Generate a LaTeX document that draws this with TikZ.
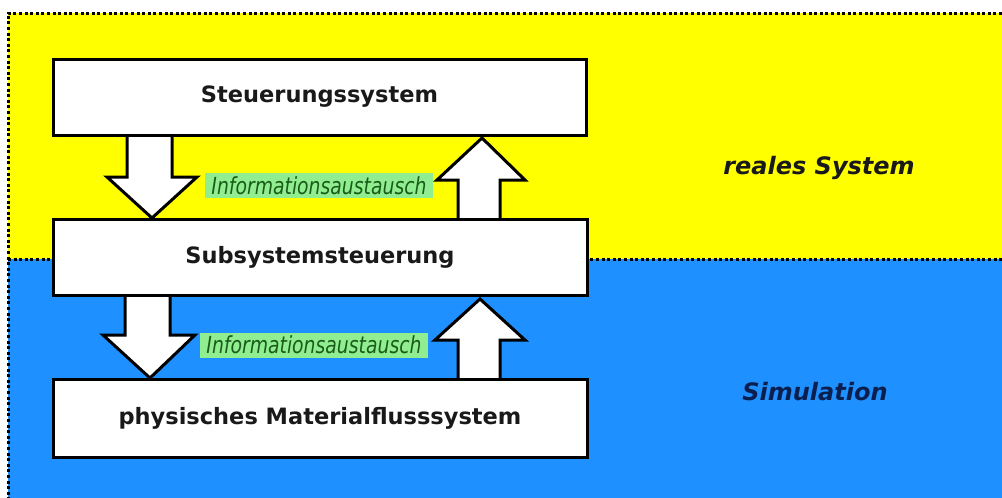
\documentclass[tikz,border=0pt]{standalone}
\usepackage{fontspec}
\setmainfont{DejaVu Sans}
\newfontfamily\infofont[FakeStretch=0.8]{DejaVu Sans}
\definecolor{bgyellow}{HTML}{FFFF00}
\definecolor{bgblue}{HTML}{1E90FF}
\definecolor{hlgreen}{HTML}{90EE90}
\definecolor{txtgreen}{HTML}{1A5C1A}
\definecolor{navy}{HTML}{0B1F4F}
\tikzset{
  sysbox/.style={draw=black, line width=3pt, fill=white, minimum width=533pt, minimum height=76pt, inner sep=0pt,
    font=\bfseries\fontsize{22.5}{27}\selectfont, text=black!90},
  blockarrow/.style={fill=white},
  arrowline/.style={draw=black, line width=3pt, line join=miter},
  infolabel/.style={fill=hlgreen, text=txtgreen, inner sep=0pt, minimum width=228pt, minimum height=25pt,
    font=\infofont\itshape\fontsize{23.5}{25}\selectfont},
  regionlabel/.style={font=\bfseries\itshape\fontsize{24}{28}\selectfont, inner sep=0pt},
  border/.style={draw=black, line width=3pt, dash pattern=on 3pt off 2.6pt}
}
\begin{document}
\begin{tikzpicture}[x=1pt,y=-1pt]
\useasboundingbox (0,0) rectangle (1002,498);
\fill[white] (0,0) rectangle (1002,498);
% regions
\fill[bgyellow] (8,13) rectangle (1002,259);
\fill[bgblue] (8,259) rectangle (1002,498);
\coordinate (tl) at (8,13);
\coordinate (tr) at (1002,13);
\coordinate (bl) at (8,498);
\coordinate (ml) at (8,259);
\coordinate (mr) at (1002,259);
\draw[border] (tr) -- (tl) -- (bl);
\draw[border] (ml) -- (mr);

% block arrows (upper)
\fill[blockarrow] (127,135) -- (127,177) -- (107,177) -- (152,218) -- (197,177) -- (172,177) -- (172,135) -- cycle;
\draw[arrowline] (127,135) -- (127,177) -- (107,177) -- (152,218) -- (197,177) -- (172,177) -- (172,135);
\fill[blockarrow] (458,219) -- (458,180) -- (437,180) -- (482,138) -- (525,180) -- (500,180) -- (500,219) -- cycle;
\draw[arrowline] (458,219) -- (458,180) -- (437,180) -- (482,138) -- (525,180) -- (500,180) -- (500,219);
% block arrows (lower)
\fill[blockarrow] (125,295) -- (125,335) -- (103,335) -- (150,378) -- (195,335) -- (170,335) -- (170,295) -- cycle;
\draw[arrowline] (125,295) -- (125,335) -- (103,335) -- (150,378) -- (195,335) -- (170,335) -- (170,295);
\fill[blockarrow] (458,379) -- (458,340) -- (435,340) -- (480,299) -- (525,340) -- (500,340) -- (500,379) -- cycle;
\draw[arrowline] (458,379) -- (458,340) -- (435,340) -- (480,299) -- (525,340) -- (500,340) -- (500,379);

% boxes
\node[sysbox] (steuer) at (319.5,97) {Steuerungssystem};
\node[sysbox, minimum width=534pt] (subsys) at (320,257) {Subsystemsteuerung};
\node[sysbox, minimum width=534pt, minimum height=78pt] (phys) at (320,418) {physisches Materialflusssystem};

% labels
\node[infolabel] (info1) at (319,185.5) {Informationsaustausch};
\node[infolabel] (info2) at (314,345) {Informationsaustausch};
\node[regionlabel, text=black!90] (real) at (819,168) {reales System};
\node[regionlabel, text=navy] (sim) at (815,392) {Simulation};
\end{tikzpicture}
\end{document}
